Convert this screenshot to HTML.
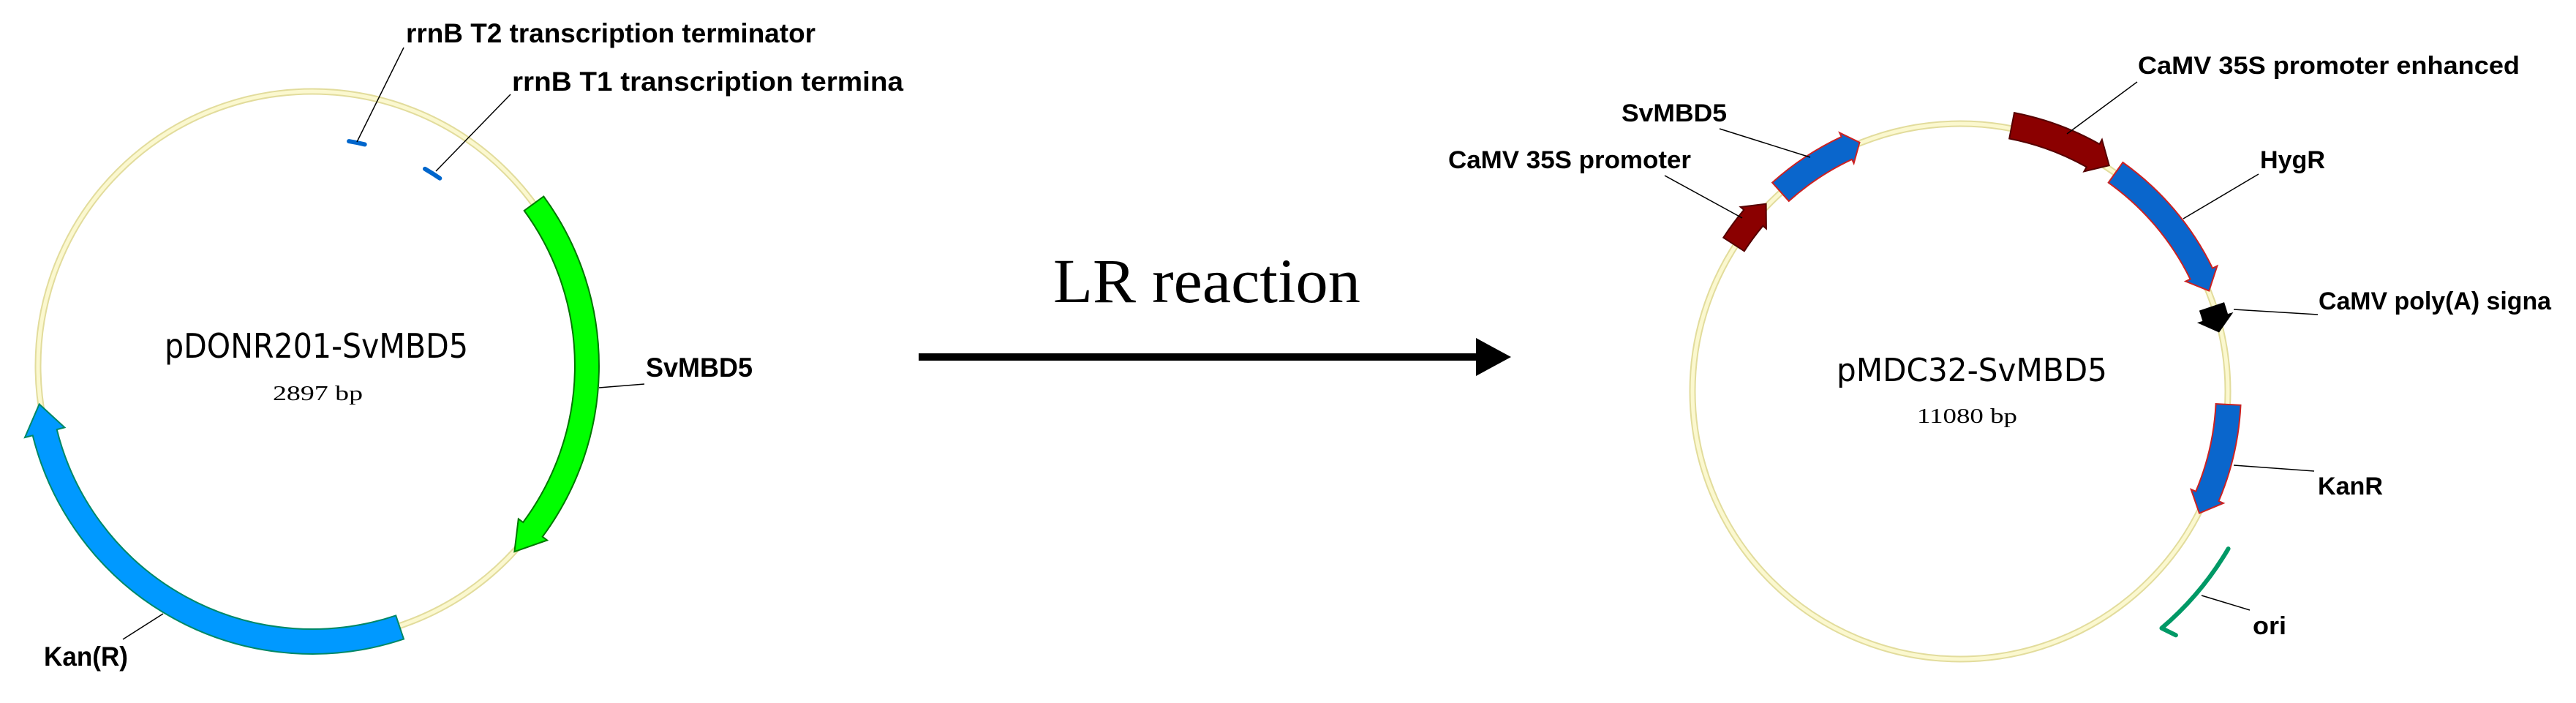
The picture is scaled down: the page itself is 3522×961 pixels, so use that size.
<!DOCTYPE html>
<html><head><meta charset="utf-8"><style>
html,body{margin:0;padding:0;background:#fff;}
svg{display:block;}
.lb{font-family:"Liberation Sans",sans-serif;font-weight:bold;fill:#000;}
.ttl{font-family:"DejaVu Sans","Liberation Sans",sans-serif;font-weight:normal;fill:#000;}
.sr{font-family:"Liberation Serif",serif;fill:#000;}
</style></head><body>
<svg id="s" xmlns="http://www.w3.org/2000/svg" width="3522" height="961" viewBox="0 0 3522 961">
<rect width="3522" height="961" fill="#fff"/>
<circle cx="427" cy="500" r="375" fill="none" stroke="#e2dc9c" stroke-width="9"/>
<circle cx="427" cy="500" r="375" fill="none" stroke="#fbf8cf" stroke-width="5"/>
<circle cx="2680" cy="535" r="366" fill="none" stroke="#e2dc9c" stroke-width="9"/>
<circle cx="2680" cy="535" r="366" fill="none" stroke="#fbf8cf" stroke-width="5"/>
<g id="shapes"></g>
<g stroke="#000" stroke-width="1.5" fill="none">
<line x1="552" y1="65" x2="488" y2="194"/>
<line x1="698" y1="129" x2="596" y2="234"/>
<line x1="881" y1="525" x2="819" y2="530"/>
<line x1="168" y1="874" x2="223" y2="839"/>
<line x1="2276" y1="240" x2="2382" y2="298"/>
<line x1="2351" y1="176" x2="2475" y2="215"/>
<line x1="2922" y1="112" x2="2826" y2="183"/>
<line x1="3088" y1="238" x2="2985" y2="299"/>
<line x1="3169" y1="430" x2="3054" y2="423"/>
<line x1="3164" y1="644" x2="3054" y2="636"/>
<line x1="3076" y1="834" x2="3010" y2="814"/>
</g>
<rect x="1256" y="483" width="766" height="10" fill="#000"/>
<polygon points="2018,462 2066,488 2018,514" fill="#000"/>
<text class="sr" x="1440" y="413" font-size="86" textLength="420" lengthAdjust="spacingAndGlyphs">LR reaction</text>
<text class="lb" x="555" y="58" font-size="37" textLength="560" lengthAdjust="spacingAndGlyphs">rrnB T2 transcription terminator</text>
<text class="lb" x="700" y="124" font-size="37" textLength="535" lengthAdjust="spacingAndGlyphs">rrnB T1 transcription termina</text>
<text class="lb" x="883" y="515" font-size="37" textLength="146" lengthAdjust="spacingAndGlyphs">SvMBD5</text>
<text class="lb" x="60" y="910" font-size="37" textLength="115" lengthAdjust="spacingAndGlyphs">Kan(R)</text>
<text class="ttl" x="225" y="489" font-size="46" textLength="415" lengthAdjust="spacingAndGlyphs">pDONR201-SvMBD5</text>
<text class="sr" x="373" y="547" font-size="28" textLength="123" lengthAdjust="spacingAndGlyphs">2897 bp</text>
<text class="lb" x="1980" y="230" font-size="34" textLength="332" lengthAdjust="spacingAndGlyphs">CaMV 35S promoter</text>
<text class="lb" x="2217" y="166" font-size="34" textLength="144" lengthAdjust="spacingAndGlyphs">SvMBD5</text>
<text class="lb" x="2923" y="101" font-size="34" textLength="522" lengthAdjust="spacingAndGlyphs">CaMV 35S promoter enhanced</text>
<text class="lb" x="3090" y="230" font-size="34" textLength="89" lengthAdjust="spacingAndGlyphs">HygR</text>
<text class="lb" x="3170" y="423" font-size="34" textLength="318" lengthAdjust="spacingAndGlyphs">CaMV poly(A) signa</text>
<text class="lb" x="3169" y="676" font-size="34" textLength="89" lengthAdjust="spacingAndGlyphs">KanR</text>
<text class="lb" x="3080" y="867" font-size="34" textLength="46" lengthAdjust="spacingAndGlyphs">ori</text>
<text class="ttl" x="2511" y="521" font-size="44" textLength="370" lengthAdjust="spacingAndGlyphs">pMDC32-SvMBD5</text>
<text class="sr" x="2621" y="578" font-size="28" textLength="137" lengthAdjust="spacingAndGlyphs">11080 bp</text>
</svg>
<script>
(function(){
var g=document.getElementById('shapes');var NS='http://www.w3.org/2000/svg';
function P(cx,cy,r,t){var a=t*Math.PI/180;return (cx+r*Math.sin(a)).toFixed(1)+','+(cy-r*Math.cos(a)).toFixed(1);}
function arrow(cx,cy,ri,ro,t0,t1,hd,ex,fill,stroke){
 var dir=t1>t0?1:-1;var hb=t1-dir*hd;var rm=(ri+ro)/2;
 var sw=dir>0?1:0;var sw2=1-sw;
 var large=Math.abs(hb-t0)>180?1:0;
 var d='M'+P(cx,cy,ro,t0)+' A'+ro+','+ro+' 0 '+large+' '+sw+' '+P(cx,cy,ro,hb)+
 ' L'+P(cx,cy,ro+ex,hb)+' L'+P(cx,cy,rm,t1)+' L'+P(cx,cy,ri-ex,hb)+' L'+P(cx,cy,ri,hb)+
 ' A'+ri+','+ri+' 0 '+large+' '+sw2+' '+P(cx,cy,ri,t0)+' Z';
 var p=document.createElementNS(NS,'path');p.setAttribute('d',d);p.setAttribute('fill',fill);
 p.setAttribute('stroke',stroke);p.setAttribute('stroke-width','2');g.appendChild(p);}
function tick(cx,cy,r,t,len){var a=(len/2)/r*180/Math.PI;
 var p=document.createElementNS(NS,'path');p.setAttribute('d','M'+P(cx,cy,r,t-a)+' A'+r+','+r+' 0 0 1 '+P(cx,cy,r,t+a));
 p.setAttribute('fill','none');p.setAttribute('stroke','#0066cc');p.setAttribute('stroke-width','6');p.setAttribute('stroke-linecap','round');g.appendChild(p);}
arrow(427,500,359,392,53.8,132.6,6,8,'#00ff00','#007700');
arrow(427,500,360,394,161.5,262,6,11,'#0099ff','#008866');
tick(427,500,311,11.3,22);tick(427,500,310,32,24);
var cx=2680,cy=535;
arrow(cx,cy,352,386,303,314,4,6,'#8b0000','#550000');
arrow(cx,cy,350,384,318,338,3,6,'#0a66cc','#cc2222');
arrow(cx,cy,352,388,11,33.4,4,7,'#8b0000','#550000');
arrow(cx,cy,350,384,35.4,68,4,7,'#0a66cc','#cc2222');
arrow(cx,cy,346,380,71.5,77,3,6,'#000','#000');
arrow(cx,cy,350,384,92.8,117,4,7,'#0a66cc','#cc2222');
var p=document.createElementNS(NS,'path');
p.setAttribute('d','M'+P(cx,cy,425,120.4)+' A425,425 0 0 1 '+P(cx,cy,425,139.6)+' L'+P(cx,cy,445,138.5));
p.setAttribute('fill','none');p.setAttribute('stroke','#009966');p.setAttribute('stroke-width','6');p.setAttribute('stroke-linecap','round');p.setAttribute('stroke-linejoin','round');g.appendChild(p);
})();
</script>
</body></html>
